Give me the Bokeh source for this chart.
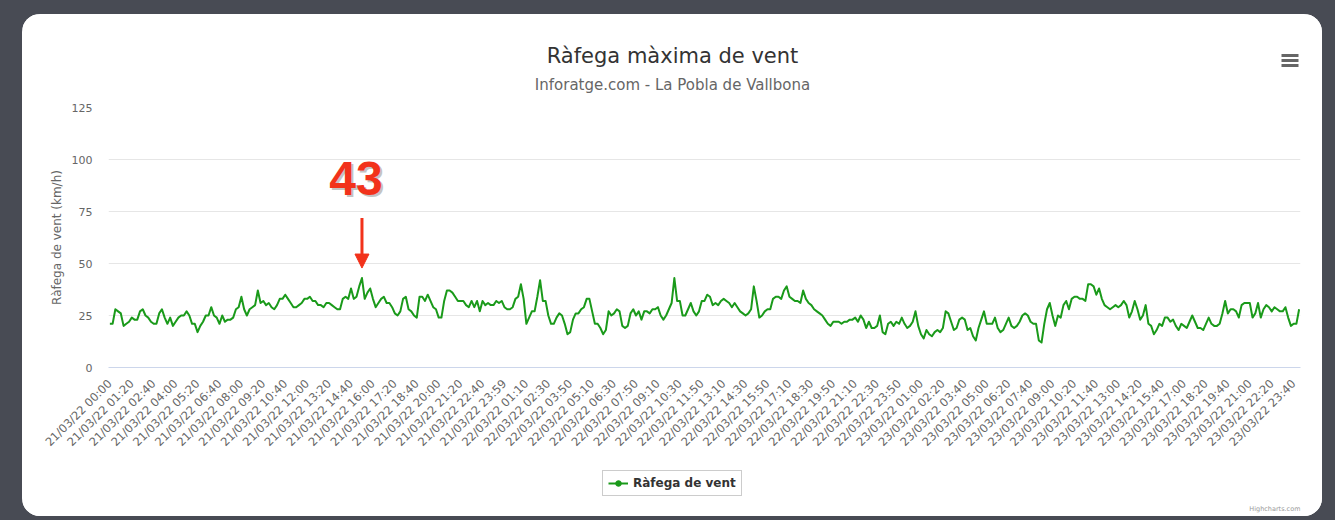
import math
import numpy as np
from bokeh.plotting import figure
from bokeh.models import (Range1d, FixedTicker, Label, Arrow, NormalHead,
                          Legend, LegendItem, ColumnDataSource)
from bokeh.layouts import column
from bokeh.embed import file_html
from bokeh.resources import INLINE

# ---------------- data ----------------
days = ["21/03/22", "22/03/22", "23/03/22"]
times = [f"{h:02d}:{m:02d}" for h in range(24) for m in range(0, 60, 10)] + ["23:59"]
categories = [f"{d} {t}" for d in days for t in times]

gust_21 = [21, 21, 28, 27, 26, 20, 21, 22, 24, 23, 23, 27, 28, 25, 24, 22, 21, 21, 26, 28,
           24, 21, 24, 20, 22, 24, 25, 25, 27, 25, 21, 21, 17, 20, 22, 25, 25,
           29, 25, 24, 21, 25, 22, 23, 23, 24, 28, 29, 34, 28, 25, 28, 29, 30, 37, 31,
           32, 30, 31, 29, 28, 30, 33, 33, 35, 33, 31, 29, 29, 30, 31, 33, 33, 34, 32, 32,
           30, 30, 29, 31, 31, 30, 29, 28, 28, 33, 34, 33, 38, 33, 34, 39, 43, 33, 36, 38,
           33, 29, 31, 33, 34, 31, 31, 29, 26, 25, 27, 33, 34, 28, 27, 25, 24, 34,
           34, 32, 35, 32, 29, 28, 24, 24, 32, 37, 37, 36, 34, 32, 32, 32, 30, 29, 32, 29,
           32, 27, 32, 30, 31, 30, 30, 32, 31, 32, 29]
gust_22 = [28, 28, 29, 33, 34, 40, 33,
           21, 24, 27, 27, 34, 42, 32, 32, 25, 21, 21, 24, 26, 25, 21, 16, 17, 23, 26, 26,
           28, 29, 33, 33, 27, 21, 21, 19, 16, 18, 27, 25, 26, 28, 27, 20, 19, 20, 26,
           28, 25, 27, 23, 27, 27, 26, 28, 28, 29, 25, 23, 25, 28, 31, 43, 32, 32, 25, 25,
           28, 31, 27, 25, 27, 32, 32, 35, 34, 30, 31, 30, 32, 33, 32, 31, 29, 31,
           29, 27, 26, 25, 26, 28, 39, 32, 24, 25, 27, 28, 28, 33, 34, 34, 33, 37, 39, 34,
           33, 32, 32, 31, 37, 33, 31, 30, 28, 27, 26, 25, 23, 21, 20, 22, 22, 22,
           21, 22, 22, 23, 23, 24, 22, 25, 23, 19, 22, 19, 19, 20, 25, 17, 16, 21, 22, 20,
           22, 21, 24]
gust_23 = [21, 19, 20, 22, 27, 20, 16, 14, 18, 16, 15, 17, 18, 17, 19, 27,
           26, 22, 18, 19, 23, 24, 23, 18, 19, 15, 13, 19, 23, 27, 21, 21, 21, 24, 19, 17,
           18, 21, 24, 20, 19, 20, 22, 25, 26, 25, 22, 21, 21, 13, 12, 21, 28, 31,
           25, 20, 25, 24, 30, 32, 28, 33, 34, 34, 33, 33, 32, 40, 40, 39, 35, 38, 33, 30,
           29, 28, 29, 30, 29, 30, 32, 30, 24, 27, 32, 28, 23, 25, 30, 21, 20, 16,
           18, 21, 20, 24, 24, 22, 23, 20, 18, 21, 20, 19, 22, 25, 22, 19, 19, 18, 21, 24,
           21, 20, 20, 21, 26, 32, 26, 28, 28, 27, 24, 30, 31, 31, 31, 24, 26, 31, 24, 28,
           30, 29, 27, 29, 28, 27, 27, 29, 24, 20, 21, 21, 28]
y_ticks = [0, 25, 50, 75, 100, 125]
label_step = 8

gust = gust_21 + gust_22 + gust_23
n = len(gust)
idx = np.arange(n)

# ---------------- styling ----------------
FONT = "DejaVu Sans"
GREEN = "#1a9a1a"
RED = "#f2321b"
CARD_W, CARD_H = 1300, 502
FL, FR = 86, 1278           # frame left/right in card px (shared by all rows)
HEAD_H = 85
FRAME_H = 260
MAIN_TOP, MAIN_BOTTOM = 8, 95
FOOT_H = CARD_H - HEAD_H - MAIN_TOP - FRAME_H - MAIN_BOTTOM

x0, x1 = -0.5, n - 0.5
y0, y1 = 0, 125


def bare(fig):
    fig.xaxis.visible = False
    fig.yaxis.visible = False
    fig.xgrid.visible = False
    fig.ygrid.visible = False
    fig.outline_line_color = None
    fig.background_fill_color = "white"
    fig.border_fill_color = "white"


def strip(h):
    # a row of the card whose frame spans card pixels FL..FR, y in pixels from its top
    f = figure(frame_width=FR - FL, frame_height=h, x_range=Range1d(FL, FR),
               y_range=Range1d(h, 0), output_backend="svg", toolbar_location=None,
               min_border_left=FL, min_border_right=CARD_W - FR,
               min_border_top=0, min_border_bottom=0)
    bare(f)
    return f


# ---------- header: title, subtitle, menu icon ----------
head = strip(HEAD_H)
head.add_layout(Label(x=650, y=41, text="Ràfega màxima de vent", text_align="center",
                      text_baseline="alphabetic", text_font=FONT, text_font_size="21px",
                      text_color="#333333"))
head.add_layout(Label(x=650, y=70, text="Inforatge.com - La Pobla de Vallbona",
                      text_align="center", text_baseline="alphabetic", text_font=FONT,
                      text_font_size="15px", text_color="#666666"))
menu_y = [41, 46, 51]
head.segment(x0=[1259] * 3, y0=menu_y, x1=[1276] * 3, y1=menu_y,
             line_color="#666666", line_width=3)

# ---------- main chart ----------
p = figure(frame_width=FR - FL, frame_height=FRAME_H,
           x_range=Range1d(x0, x1), y_range=Range1d(y0, y1),
           output_backend="svg", toolbar_location=None,
           min_border_left=FL, min_border_right=CARD_W - FR,
           min_border_top=MAIN_TOP, min_border_bottom=MAIN_BOTTOM)
p.outline_line_color = None
p.background_fill_color = "white"
p.border_fill_color = "white"

src = ColumnDataSource(dict(x=idx, y=gust))
line_r = p.line("x", "y", source=src, line_color=GREEN, line_width=2, line_join="round")

p.yaxis.ticker = FixedTicker(ticks=y_ticks)
p.yaxis.axis_line_color = None
p.yaxis.major_tick_line_color = None
p.yaxis.minor_tick_line_color = None
p.yaxis.major_tick_out = 0
p.yaxis.major_label_standoff = 16
p.yaxis.major_label_text_font = FONT
p.yaxis.major_label_text_font_size = "11px"
p.yaxis.major_label_text_color = "#666666"
p.yaxis.axis_label = "Ràfega de vent (km/h)"
p.yaxis.axis_label_text_font = FONT
p.yaxis.axis_label_text_font_size = "12px"
p.yaxis.axis_label_text_font_style = "normal"
p.yaxis.axis_label_text_color = "#666666"
p.yaxis.axis_label_standoff = 5

ticks = list(range(0, n, label_step))
p.xaxis.ticker = FixedTicker(ticks=ticks)
p.xaxis.major_label_overrides = {t: categories[t] for t in ticks}
p.xaxis.major_label_orientation = math.pi / 4
p.xaxis.axis_line_color = "#ccd6eb"
p.xaxis.major_tick_line_color = None
p.xaxis.minor_tick_line_color = None
p.xaxis.major_tick_out = 0
p.xaxis.major_label_standoff = 14
p.xaxis.major_label_text_font = FONT
p.xaxis.major_label_text_font_size = "11.5px"
p.xaxis.major_label_text_color = "#666666"

p.xgrid.grid_line_color = None
p.ygrid.grid_line_color = "#e6e6e6"
p.ygrid.grid_line_width = 1

# peak annotation
pk = int(np.argmax(gust))
pv = gust[pk]
ppu = FRAME_H / (y1 - y0)      # pixels per km/h
p.add_layout(Label(x=pk, y=pv + 100 / ppu, text=str(pv), text_align="center",
                   text_baseline="alphabetic", text_font="Liberation Sans",
                   text_font_size="48px", text_font_style="bold",
                   text_color="#c4c4c4", x_offset=-4, y_offset=-2))
p.add_layout(Label(x=pk, y=pv + 100 / ppu, text=str(pv), text_align="center",
                   text_baseline="alphabetic", text_font="Liberation Sans",
                   text_font_size="48px", text_font_style="bold",
                   text_color=RED, x_offset=-6))
p.add_layout(Arrow(x_start=pk, y_start=pv + 60 / ppu, x_end=pk, y_end=pv + 10 / ppu,
                   line_color=RED, line_width=3,
                   end=NormalHead(size=14, fill_color=RED, line_color=RED)))

# ---------- footer: legend + credits ----------
foot = strip(FOOT_H)
leg_line = foot.line(x=[FL, FL + 1], y=[-100, -100], line_color=GREEN, line_width=2)
leg_dot = foot.scatter(x=[FL], y=[-100], marker="circle", size=8,
                       fill_color=GREEN, line_color=GREEN)
legend = Legend(items=[LegendItem(label="Ràfega de vent", renderers=[leg_line, leg_dot])],
                location=(580 - FL, FOOT_H - 34), orientation="horizontal",
                border_line_color="#999999", border_line_width=1,
                background_fill_color="white", background_fill_alpha=1,
                label_text_font=FONT, label_text_font_size="12px",
                label_text_font_style="bold", label_text_color="#333333",
                glyph_width=20, glyph_height=14, padding=5, margin=0)
foot.add_layout(legend)
foot.add_layout(Label(x=FR, y=FOOT_H - 8, text="Highcharts.com", text_align="right",
                      text_baseline="alphabetic", text_font=FONT, text_font_size="6.5px",
                      text_color="#999999"))

card = column(head, p, foot, spacing=0,
              styles={"background-color": "white", "border-radius": "18px", "overflow": "hidden"})
card.margin = (14, 13, 4, 22)

layout = column(card, styles={"background-color": "#484b54"})

open("out.html", "w").write(file_html(layout, INLINE))
